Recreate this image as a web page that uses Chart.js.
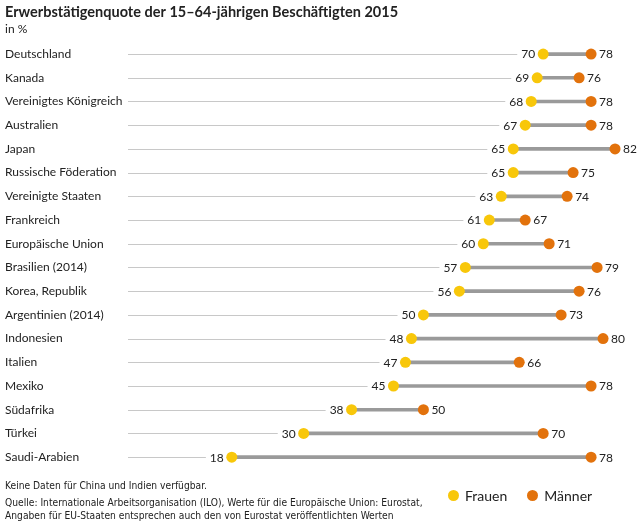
<!DOCTYPE html>
<html>
<head>
<meta charset="utf-8">
<script src="https://cdn.jsdelivr.net/npm/chart.js@4/dist/chart.umd.min.js"></script>
<style>
  html, body { margin: 0; padding: 0; background: #fff; }
  #wrap { position: relative; width: 640px; height: 526px; }
  #c { position: absolute; left: 0; top: 0; }
  .note { position: absolute; left: 5px; font-family: "Liberation Sans Narrow", "DejaVu Sans Condensed", sans-serif; font-size: 10.2px; color: #222; line-height: 13px; white-space: nowrap; }
  #legend { position: absolute; left: 448px; top: 487px; font-family: Lato, sans-serif; font-size: 14px; color: #222; display: flex; align-items: center; white-space: nowrap; }
  #legend .dot { display: inline-block; width: 11px; height: 11px; border-radius: 50%; margin-right: 6px; }
  #legend .item { display: flex; align-items: center; margin-right: 20px; }
</style>
</head>
<body>
<div id="wrap">
  <canvas id="c" width="640" height="526"></canvas>
  <div class="note" style="top:479px;">Keine Daten für China und Indien verfügbar.</div>
  <div class="note" style="top:496px;">Quelle: Internationale Arbeitsorganisation (ILO), Werte für die Europäische Union: Eurostat,<br>Angaben für EU-Staaten entsprechen auch den von Eurostat veröffentlichten Werten</div>
  <div id="legend"></div>
</div>
<script>
const countries = ["Deutschland","Kanada","Vereinigtes Königreich","Australien","Japan","Russische Föderation","Vereinigte Staaten","Frankreich","Europäische Union","Brasilien (2014)","Korea, Republik","Argentinien (2014)","Indonesien","Italien","Mexiko","Südafrika","Türkei","Saudi-Arabien"];
const women = [70,69,68,67,65,65,63,61,60,57,56,50,48,47,45,38,30,18];
const men   = [78,76,78,78,82,75,74,67,71,79,76,73,80,66,78,50,70,78];
const seriesNames = ["Frauen","Männer"];

const YELLOW = '#f8c70a';
const ORANGE = '#e2720c';
const TEXT = '#222';
const LABEL_FONT = '12px Lato, sans-serif';

const valueLabels = {
  id: 'valueLabels',
  beforeDatasetsDraw(chart) {
    const ctx = chart.ctx;
    const wMeta = chart.getDatasetMeta(1);
    ctx.save();
    ctx.font = LABEL_FONT;
    ctx.strokeStyle = '#c8c8c8';
    ctx.lineWidth = 1;
    wMeta.data.forEach((pt, i) => {
      const tw = ctx.measureText(String(women[i])).width;
      const endX = pt.x - 8 - tw - 4;
      ctx.beginPath();
      ctx.moveTo(chart.chartArea.left + 4, Math.round(pt.y) + 0.5);
      ctx.lineTo(endX, Math.round(pt.y) + 0.5);
      ctx.stroke();
    });
    ctx.restore();
  },
  afterDatasetsDraw(chart) {
    const ctx = chart.ctx;
    const wMeta = chart.getDatasetMeta(1);
    const mMeta = chart.getDatasetMeta(2);
    ctx.save();
    ctx.font = LABEL_FONT;
    ctx.fillStyle = TEXT;
    ctx.textBaseline = 'middle';
    wMeta.data.forEach((pt, i) => {
      ctx.textAlign = 'right';
      ctx.fillText(String(women[i]), pt.x - 8, pt.y + 0.5);
    });
    mMeta.data.forEach((pt, i) => {
      ctx.textAlign = 'left';
      ctx.fillText(String(men[i]), pt.x + 8, pt.y + 0.5);
    });
    ctx.restore();
  }
};

new Chart(document.getElementById('c'), {
  type: 'bar',
  data: {
    labels: countries,
    datasets: [
      {
        type: 'bar',
        label: 'Spanne',
        data: women.map((w, i) => [w, men[i]]),
        backgroundColor: '#9a9a9a',
        barThickness: 3,
        order: 3,
        indexAxis: 'y'
      },
      {
        type: 'line',
        label: seriesNames[0],
        data: women,
        showLine: false,
        pointRadius: 5.5,
        pointBackgroundColor: YELLOW,
        pointBorderColor: YELLOW,
        pointBorderWidth: 0,
        order: 1,
        indexAxis: 'y'
      },
      {
        type: 'line',
        label: seriesNames[1],
        data: men,
        showLine: false,
        pointRadius: 5.5,
        pointBackgroundColor: ORANGE,
        pointBorderColor: ORANGE,
        pointBorderWidth: 0,
        order: 1,
        indexAxis: 'y'
      }
    ]
  },
  options: {
    indexAxis: 'y',
    responsive: false,
    animation: false,
    events: [],
    layout: { padding: { left: 5, right: 7, top: 0, bottom: 57 } },
    scales: {
      x: { type: 'linear', min: 0, max: 85, display: false },
      y: {
        type: 'category',
        offset: true,
        grid: { display: false, drawTicks: false },
        border: { display: false },
        ticks: { crossAlign: 'far', color: TEXT, font: { family: 'Lato, sans-serif', size: 12 }, padding: 0 },
        afterFit(scale) { scale.width = 119; }
      }
    },
    plugins: {
      legend: { display: false },
      tooltip: { enabled: false },
      title: {
        display: true,
        align: 'start',
        text: 'Erwerbstätigenquote der 15–64-jährigen Beschäftigten 2015',
        color: TEXT,
        font: { family: 'Lato, sans-serif', size: 14.5, weight: 'bold', lineHeight: 1.2 },
        padding: { top: 4, bottom: 1 }
      },
      subtitle: {
        display: true,
        align: 'start',
        text: 'in %',
        color: TEXT,
        font: { family: 'Lato, sans-serif', size: 12, lineHeight: 1.2 },
        padding: { top: 0, bottom: 5.4 }
      }
    }
  },
  plugins: [valueLabels]
});

const lg = document.getElementById('legend');
[[seriesNames[0], YELLOW], [seriesNames[1], ORANGE]].forEach(([n, c]) => {
  const it = document.createElement('span');
  it.className = 'item';
  const d = document.createElement('span');
  d.className = 'dot';
  d.style.background = c;
  it.appendChild(d);
  it.appendChild(document.createTextNode(n));
  lg.appendChild(it);
});
</script>
</body>
</html>
